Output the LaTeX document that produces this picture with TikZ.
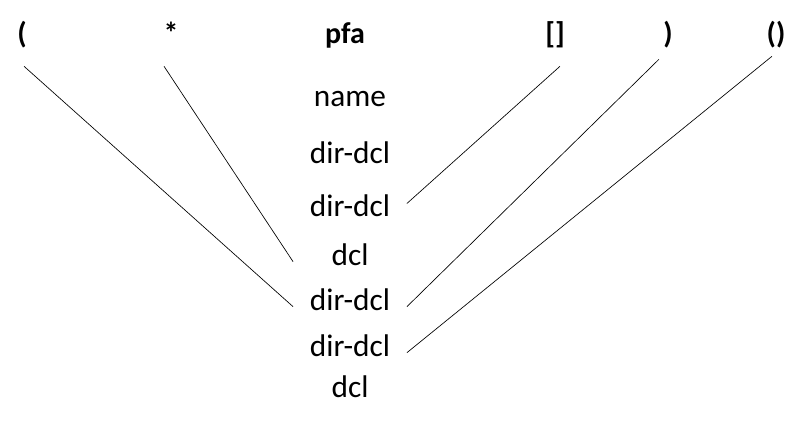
\documentclass[tikz,border=0pt]{standalone}
\usepackage{fontspec}
\setmainfont{Carlito}
\begin{document}
\begin{tikzpicture}[%
    x=0.75pt, y=-0.75pt,        % one unit per reference pixel, y downwards
    ]
% -------------------------------------------------
% Styles for the tokens and the derivation column
\tikzset{
  tok/.style={anchor=base, inner sep=2pt, text depth=0.25em,
    font={\fontsize{22.5}{26}\selectfont\bfseries}},
  deriv/.style={anchor=base, inner sep=2pt, minimum width=85pt,
    text height=0.72em, text depth=0.22em, font={\fontsize{23.5}{28}\selectfont}},
  link/.style={draw, line width=0.5pt}
}
\useasboundingbox (0,0) rectangle (804,425);
% -------------------------------------------------
% Tokens along the top
\node [tok] (lp)   at (22,43)  {(};
\node [tok] (star) at (171,43) {*};
\node [tok] (pfa)  at (345,43) {pfa};
\node [tok] (brk)  at (555,43) {[]};
\node [tok] (rp)   at (668,43) {)};
\node [tok] (fn)   at (776,43) {()};
% The column of derivation steps
\node [deriv] (name) at (350,106) {name};
\node [deriv] (dd1)  at (350,163) {dir-dcl};
\node [deriv] (dd2)  at (350,216) {dir-dcl};
\node [deriv] (dcl1) at (350,265) {dcl};
\node [deriv] (dd3)  at (350,310) {dir-dcl};
\node [deriv] (dd4)  at (350,356) {dir-dcl};
\node [deriv] (dcl2) at (350,397) {dcl};
% -------------------------------------------------
% Lines from each token to where it is absorbed
\path [link] ([shift={(2,17)}]lp.south)   -- (dd3.west);
\path [link] ([shift={(-7,17)}]star.south) -- (dcl1.west);
\path [link] ([shift={(5,17)}]brk.south)  -- (dd2.north east);
\path [link] ([shift={(-9,10)}]rp.south)  -- (dd3.east);
\path [link] ([shift={(-4,7)}]fn.south)   -- (dd4.east);
% -------------------------------------------------
\end{tikzpicture}
\end{document}
